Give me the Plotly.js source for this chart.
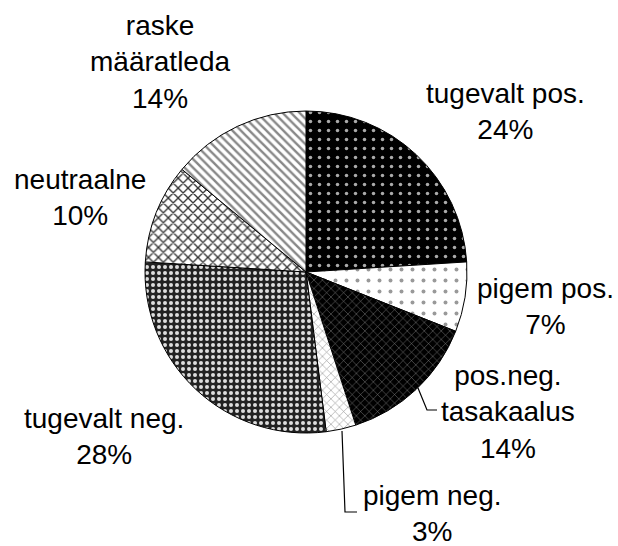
<!DOCTYPE html>
<html>
<head>
<meta charset="utf-8">
<script src="https://cdn.plot.ly/plotly-3.0.1.min.js"></script>
<style>
    html, body { margin: 0; padding: 0; background: #fff; }
    #chart { width: 618px; height: 546px; }
</style>
</head>
<body>
<div id="chart"></div>
<script>
// hinnangute jaotus (%)
const labels = ['tugevalt pos.', 'pigem pos.', 'pos.neg.<br>tasakaalus', 'pigem neg.', 'tugevalt neg.', 'neutraalne', 'raske<br>määratleda'];
const values = [24, 7, 14, 3, 28, 10, 14];

// mustrid (stiil, mitte andmed)
const patShapes = ['.', '.', 'x', 'x', '.', 'x', '\\'];
const patBg = ['#000', '#fff', '#000', '#fff', '#222', '#fff', '#fff'];
const patFg = ['#aaa', '#999', '#888', '#999', '#ddd', '#333', '#888'];
const patSize = [9, 11, 6, 6, 6, 7, 6];
const patSolid = [0.12, 0.1, 0.15, 0.2, 0.35, 0.35, 0.4];

// sildi asukohad pikslites (keskpunkt)
const labelPos = [[505, 112], [545, 306], [508, 412], [432, 513], [104, 436], [80, 197], [160, 62]];

const W = 618, H = 546;
const px = x => x / W;
const py = y => 1 - y / H;

const annotations = labels.map((lab, i) => ({
    text: lab + '<br>' + values[i] + '%',
    x: px(labelPos[i][0]), y: py(labelPos[i][1]),
    xref: 'paper', yref: 'paper',
    xanchor: 'center', yanchor: 'middle',
    align: 'center', showarrow: false,
    font: { family: 'Liberation Sans, Arial, sans-serif', size: 28, color: '#000' }
}));

// juhtjooned
const leader = (pts) => ({
    type: 'path', xref: 'paper', yref: 'paper',
    path: pts.map((p, k) => (k ? 'L' : 'M') + px(p[0]) + ',' + py(p[1])).join(' '),
    line: { color: '#000', width: 1.2 }
});
const shapes = [
    leader([[418, 388], [427, 410], [437, 410]]),
    leader([[342, 431], [345, 512], [357, 512]])
];

const trace = {
    type: 'pie',
    labels: labels,
    values: values,
    sort: false,
    direction: 'clockwise',
    rotation: 0,
    textinfo: 'none',
    hoverinfo: 'label+percent',
    domain: { x: [px(145), px(467)], y: [py(433), py(111)] },
    marker: {
        line: { color: '#000', width: 1 },
        pattern: { shape: patShapes, bgcolor: patBg, fgcolor: patFg, size: patSize, solidity: patSolid, fillmode: 'replace' }
    },
    showlegend: false
};

const layout = {
    width: W, height: H,
    margin: { t: 0, l: 0, r: 0, b: 0 },
    paper_bgcolor: '#fff',
    annotations: annotations,
    shapes: shapes,
    showlegend: false
};

Plotly.newPlot('chart', [trace], layout, { displayModeBar: false, staticPlot: true });
</script>
</body>
</html>
